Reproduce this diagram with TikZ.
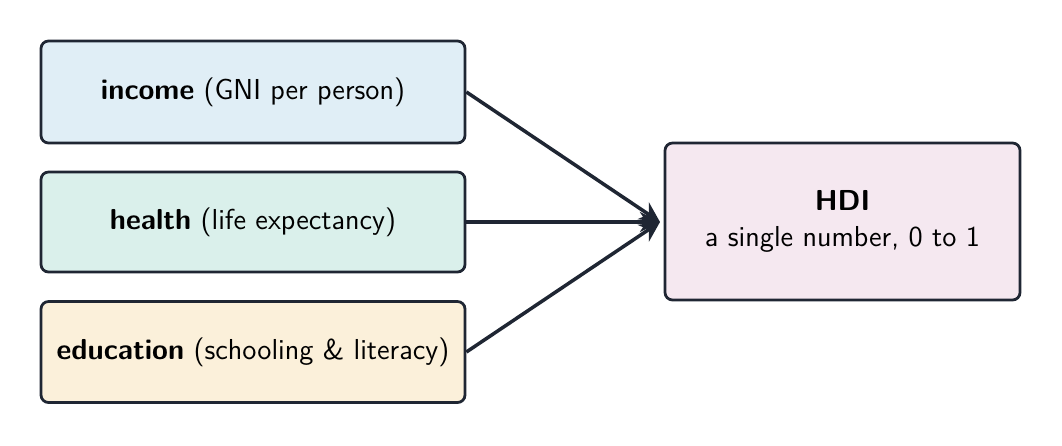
\documentclass[tikz,border=0pt]{standalone}
\usetikzlibrary{arrows.meta}
\definecolor{bd}{HTML}{1F2633}
\definecolor{cA}{HTML}{E0EEF6}
\definecolor{cB}{HTML}{DAF0EB}
\definecolor{cC}{HTML}{FBF0DA}
\definecolor{cD}{HTML}{F5E8F0}
\begin{document}
\begin{tikzpicture}[x=0.014cm,y=-0.014cm,font=\sffamily\fontsize{11.5}{14}\selectfont,
 box/.style={draw=bd,line width=1.1pt,rounded corners=3pt,inner sep=0pt,align=center,text=black},
 arr/.style={draw=bd,line width=1.4pt,-{Stealth[length=8pt,width=8pt]}}]
\useasboundingbox (0,0) rectangle (1062,445);
\node[box,fill=cA,minimum width=424*0.014cm,minimum height=102*0.014cm] (inc) at (253,92) {\textbf{income} (GNI per person)};
\node[box,fill=cB,minimum width=424*0.014cm,minimum height=100*0.014cm] (hea) at (253,222) {\textbf{health} (life expectancy)};
\node[box,fill=cC,minimum width=424*0.014cm,minimum height=101*0.014cm] (edu) at (253,352) {\textbf{education} (schooling \& literacy)};
\node[box,fill=cD,minimum width=355*0.014cm,minimum height=157*0.014cm] (hdi) at (842.5,221.5) {\textbf{HDI}\\a single number, 0 to 1};
\coordinate (t) at (660,222);
\draw[arr] (inc.east) -- (t);
\draw[arr] (hea.east) -- (t);
\draw[arr] (edu.east) -- (t);
\end{tikzpicture}
\end{document}
